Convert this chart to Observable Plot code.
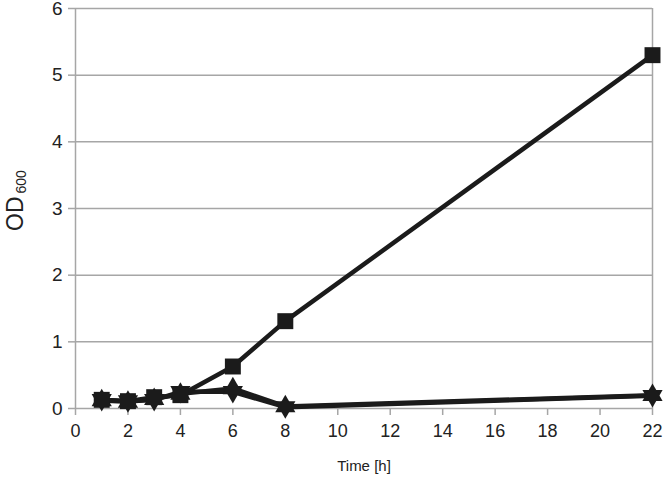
<!DOCTYPE html>
<html><head><meta charset="utf-8">
<script src="https://cdn.jsdelivr.net/npm/d3@7"></script>
<script src="https://cdn.jsdelivr.net/npm/@observablehq/plot@0.6"></script>
<style>
body{margin:0;background:#fff}
svg{font-family:"Liberation Sans",Arial,sans-serif}
</style>
</head><body><div id="chart"></div>
<script>
const times = [1, 2, 3, 4, 6, 8, 22];
const odSquare = [0.13, 0.11, 0.17, 0.20, 0.63, 1.31, 5.30];
const odTriUp = [0.12, 0.10, 0.14, 0.22, 0.30, 0.03, 0.20];
const odTriDown = [0.13, 0.11, 0.13, 0.25, 0.25, 0.02, 0.19];
const xTicks = [0, 2, 4, 6, 8, 10, 12, 14, 16, 18, 20, 22];
const yTicks = [0, 1, 2, 3, 4, 5, 6];
const xLabel = "Time [h]";
const yLabelMain = "OD";
const yLabelSub = "600";

const triangleDown = {
  draw(ctx, size) {
    const y = -Math.sqrt(size / (Math.sqrt(3) * 3));
    ctx.moveTo(0, -y * 2);
    ctx.lineTo(Math.sqrt(3) * y, y);
    ctx.lineTo(-Math.sqrt(3) * y, y);
    ctx.closePath();
  }
};

const series = [
  {name: "triDown", values: odTriDown, symbol: triangleDown, r: 7.5},
  {name: "triUp", values: odTriUp, symbol: "triangle", r: 7.5},
  {name: "square", values: odSquare, symbol: "square", r: 9}
];
const rows = series.flatMap(s => times.map((t, i) => ({series: s.name, time: t, od: s.values[i]})));

const ink = "#1b1b1b";
const grid = "#a6a6a6";

const chart = Plot.plot({
  width: 666,
  height: 484,
  marginLeft: 75,
  marginRight: 14,
  marginTop: 8,
  marginBottom: 76,
  x: {domain: [0, 22]},
  y: {domain: [0, 6]},
  marks: [
    Plot.ruleY(yTicks, {stroke: grid, strokeWidth: 1.5}),
    Plot.ruleX([0, 22], {stroke: grid, strokeWidth: 1.5}),
    Plot.axisY({ticks: yTicks, tickFormat: d3.format("d"), tickSize: 7, tickPadding: 6, stroke: grid, strokeWidth: 1.5, fontSize: 19, fill: "#222", label: null}),
    Plot.axisX({ticks: xTicks, tickFormat: d3.format("d"), tickSize: 7, tickPadding: 9, stroke: grid, strokeWidth: 1.5, fontSize: 18, fill: "#222", label: null}),
    Plot.text([xLabel], {frameAnchor: "bottom", dy: 62, fontSize: 15, fill: "#222"}),
    ...series.map(s => Plot.line(rows.filter(d => d.series === s.name), {x: "time", y: "od", stroke: ink, strokeWidth: 4.5})),
    ...series.map(s => Plot.dot(rows.filter(d => d.series === s.name), {x: "time", y: "od", symbol: () => s.symbol, r: s.r, fill: ink, stroke: "none"}))
  ]
});

const svg = d3.select(chart);
const t = svg.append("text")
  .attr("transform", "translate(23,231) rotate(-90)")
  .attr("text-anchor", "start")
  .attr("fill", "#222");
t.append("tspan").attr("font-size", 23).text(yLabelMain);
t.append("tspan").attr("font-size", 14).attr("dx", 3).attr("dy", 3).text(yLabelSub);

document.getElementById("chart").appendChild(chart);
</script>
</body></html>
